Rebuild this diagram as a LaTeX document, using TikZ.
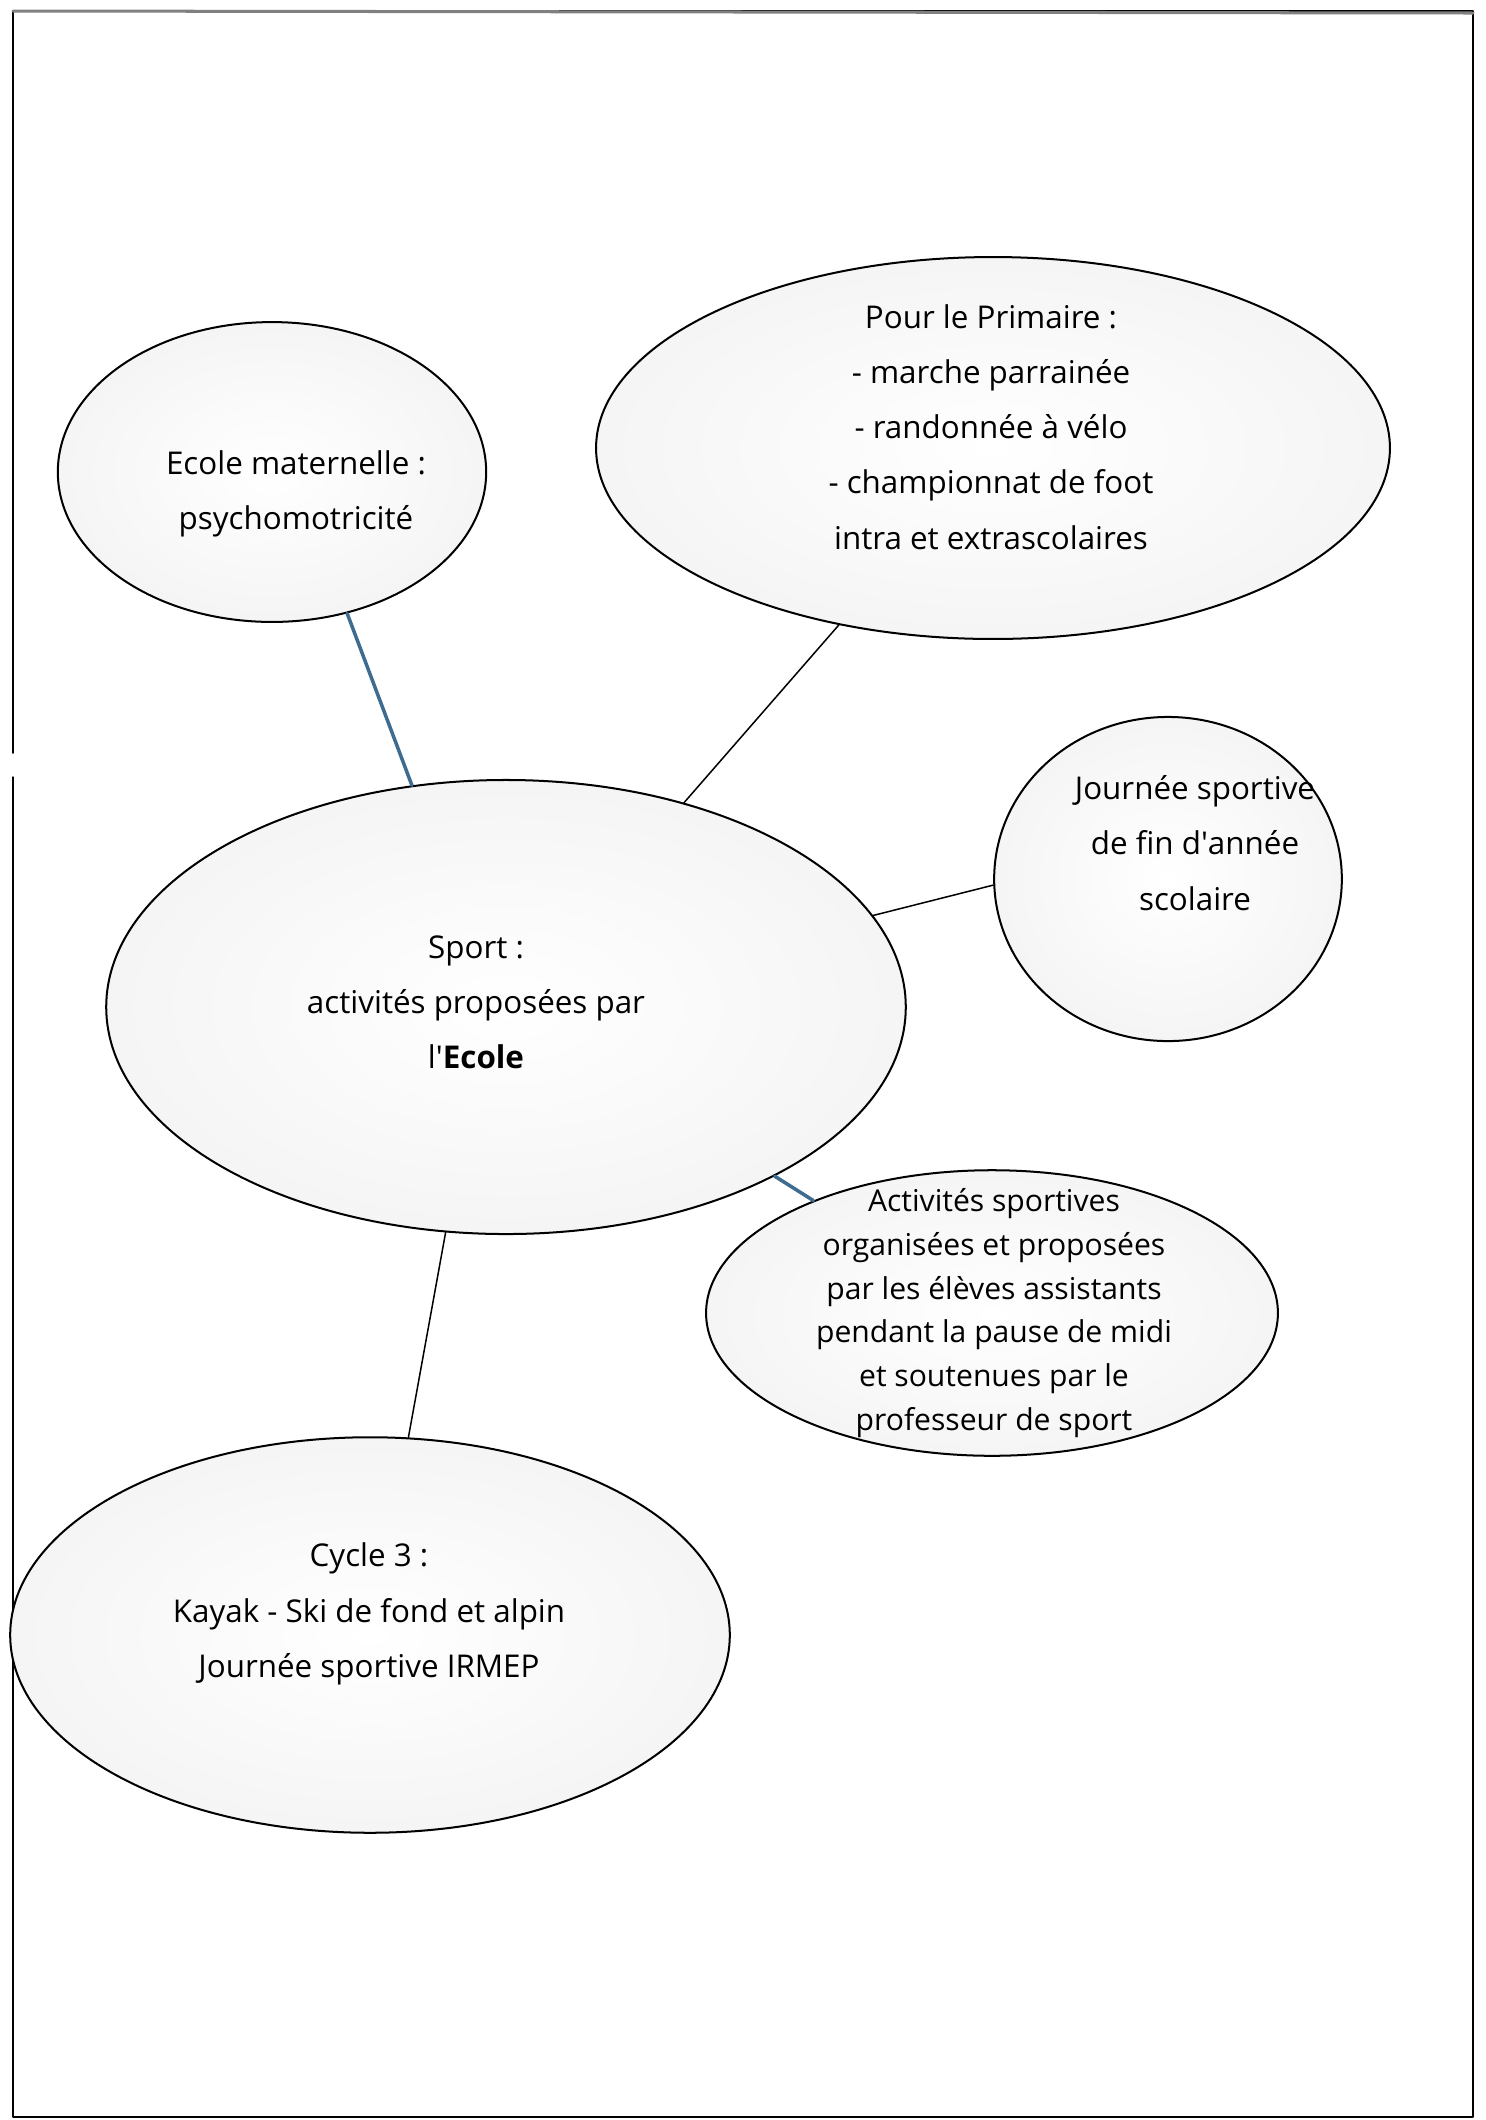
\documentclass[tikz,border=0pt]{standalone}
\usepackage{fontspec}
\setmainfont{Open Sans}
\usepackage{xcolor}
\usetikzlibrary{shapes.geometric}
\definecolor{linkblue}{RGB}{62,108,145}

\begin{document}
\begin{tikzpicture}[x=0.014cm, y=-0.014cm, line join = round, line cap = round,
    bubble/.style={ellipse, draw, line width=0.8pt, inner sep=0pt,
        shading=radial, inner color=white, outer color=gray!8},
    txt/.style={align=center, inner sep=0pt, font=\fontsize{12.5}{22}\selectfont},
    link/.style={line width=0.6pt},
    bluelink/.style={line width=1.4pt, linkblue}]

    \useasboundingbox (0,0) rectangle (1485,2120);

    % page frame
    \draw[line width=0.6pt] (13,777) -- (13,2117) -- (1473,2117) -- (1473,11) -- (13,11) -- (13,753);
    \draw[line width=1.2pt, gray] (13,11) -- (1473,13);

    % centre
    \node[bubble, minimum width=11.2cm, minimum height=6.36cm] (0) at (506,1007) {};
    \node[txt] (t0) at (476,1002) {Sport :\\activités proposées par\\l\textquotesingle\textbf{Ecole}};
    % ecole maternelle
    \node[bubble, minimum width=6.0cm, minimum height=4.2cm] (1) at (272,472) {};
    \node[txt] (t1) at (296,494) {Ecole maternelle :\\psychomotricité};
    % primaire
    \node[bubble, minimum width=11.12cm, minimum height=5.35cm] (2) at (993,448) {};
    \node[txt] (t2) at (991,427) {Pour le Primaire :\\- marche parrainée\\- randonnée à vélo\\- championnat de foot\\intra et extrascolaires};
    % journee de fin d'annee
    \node[bubble, minimum width=4.87cm, minimum height=4.54cm] (3) at (1168,879) {};
    \node[txt] (t3) at (1195,843) {Journée sportive\\de fin d\textquotesingle année\\scolaire};
    % eleves assistants
    \node[bubble, minimum width=8.01cm, minimum height=4.0cm] (4) at (992,1313) {};
    \node[txt, font=\fontsize{12}{17.4}\selectfont] (t4) at (994,1313) {Activités sportives\\organisées et proposées\\par les élèves assistants\\pendant la pause de midi\\et soutenues par le\\professeur de sport};
    % cycle 3
    \node[bubble, minimum width=10.08cm, minimum height=5.54cm] (5) at (370,1635) {};
    \node[txt] (t5) at (369,1614) {Cycle 3 :\\Kayak - Ski de fond et alpin\\Journée sportive IRMEP};

    % connectors
    \draw[bluelink] (1.-62) -- (0.113);
    \draw[link] (2) -- (0);
    \draw[link] (3.182) -- (0.14);
    \draw[bluelink] (0) -- (4);
    \draw[link] (0.255) -- (5.79);

\end{tikzpicture}
\end{document}
